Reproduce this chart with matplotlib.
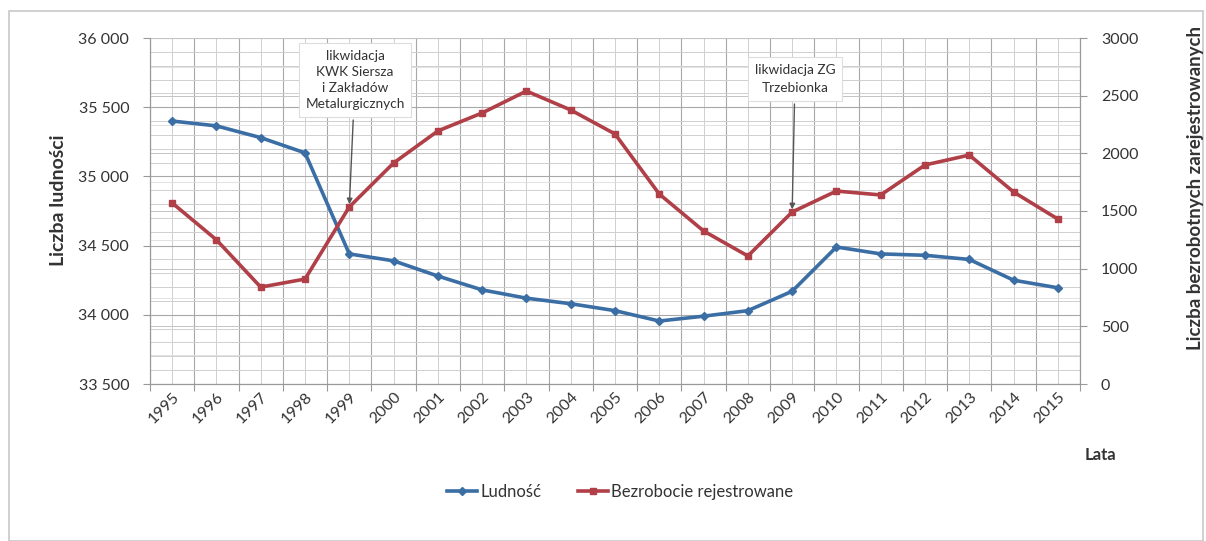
import matplotlib
matplotlib.use("Agg")
import matplotlib.pyplot as plt
from matplotlib.ticker import MultipleLocator, FuncFormatter
from matplotlib.patches import Rectangle
import numpy as np

plt.rcParams["font.family"] = ["Lato", "DejaVu Sans"]

years = [str(y) for y in range(1995, 2016)]
ludnosc = [35400, 35365, 35280, 35170, 34440, 34390, 34280, 34180, 34120, 34080, 34030,
           33955, 33990, 34030, 34170, 34490, 34440, 34430, 34400, 34250, 34195]
bezrobocie = [1570, 1250, 840, 910, 1535, 1916, 2194, 2350, 2540, 2376, 2168,
              1647, 1327, 1110, 1491, 1673, 1639, 1899, 1985, 1665, 1430]

BLUE = "#3a6ea5"
RED = "#b03f48"
TXT = "#333333"

fig = plt.figure(figsize=(12.06, 5.41), dpi=100)
fig.patches.append(Rectangle((9 / 1206, 0), 1 - 12 / 1206, 1 - 11 / 541, transform=fig.transFigure,
                             fill=False, edgecolor="#c8c8c8", lw=1.2))

ax = fig.add_axes([150 / 1206, 1 - 384 / 541, 930 / 1206, 346 / 541])
ax2 = ax.twinx()
x = np.arange(len(years))

# ---------------- grid ----------------
ax.set_ylim(33500, 36000)
ax.yaxis.set_major_locator(MultipleLocator(500))
ax.yaxis.set_minor_locator(MultipleLocator(100))
ax.set_xlim(-0.5, len(years) - 0.5)
ax.set_xticks(np.arange(-0.5, len(years), 1.0))
ax.set_xticks(x, minor=True)
ax.grid(True, which="major", color="#a8a8a8", lw=0.8)
ax.grid(True, which="minor", color="#cfcfcf", lw=0.7)
ax.set_axisbelow(True)

ax2.set_ylim(0, 3000)
ax2.yaxis.set_major_locator(MultipleLocator(500))
ax2.yaxis.set_minor_locator(MultipleLocator(250))
ax2.grid(True, which="major", axis="y", color="#c4c4c4", lw=0.7)
ax2.grid(True, which="minor", axis="y", color="#dddddd", lw=0.6)

# ---------------- series ----------------
# Ludność rysowana na osi prawej po przeskalowaniu, żeby linie były nad siatką obu osi
ax2.plot(x, [(v - 33500) / 2500 * 3000 for v in ludnosc], color=BLUE, lw=2.6, marker="D", ms=4.5,
         label="Ludność", zorder=5)
ax2.plot(x, bezrobocie, color=RED, lw=2.6, marker="s", ms=4.5, label="Bezrobocie rejestrowane", zorder=5)

# ---------------- axes style ----------------
for a in (ax, ax2):
    a.spines["top"].set_visible(False)
    for s in ("left", "right", "bottom"):
        a.spines[s].set_color("#999999")
ax.yaxis.set_major_formatter(FuncFormatter(lambda v, p: f"{int(v):,}".replace(",", " ")))
ax.tick_params(axis="y", which="major", length=5, color="#999999", labelsize=11.5, labelcolor=TXT, pad=10)
ax.tick_params(axis="y", which="minor", length=0)
ax.tick_params(axis="x", which="major", length=5, color="#999999", labelbottom=False)
ax.tick_params(axis="x", which="minor", length=0, labelsize=11.5, labelcolor=TXT, pad=4)
ax.set_xticklabels(years, minor=True, rotation=45, ha="right", rotation_mode="anchor")
ax2.tick_params(axis="y", which="major", length=5, color="#999999", labelsize=11.5, labelcolor=TXT, pad=10)
ax2.tick_params(axis="y", which="minor", length=0)

fig.text(58 / 1206, 1 - 200 / 541, "Liczba ludności", rotation=90, fontsize=14, fontweight="bold",
         color=TXT, ha="center", va="center")
fig.text(1196 / 1206, 1 - 188 / 541, "Liczba bezrobotnych zarejestrowanych", rotation=90, fontsize=13.5,
         fontweight="bold", color=TXT, ha="center", va="center")
fig.text(1100 / 1206, 1 - 455 / 541, "Lata", fontsize=12, fontweight="bold", color=TXT,
         ha="center", va="center")

# ---------------- annotations ----------------
box = dict(boxstyle="square,pad=0.5", fc="white", ec="#dddddd", lw=0.8)
arr = dict(arrowstyle="-|>", color="#555555", lw=1.0, mutation_scale=8, shrinkB=2)
ax2.annotate("likwidacja\nKWK Siersza\ni Zakładów\nMetalurgicznych", xy=(4, bezrobocie[4]),
             xytext=(355 / 1206, 1 - 80 / 541), textcoords="figure fraction", ha="center", va="center",
             fontsize=9.8, color=TXT, linespacing=1.4, bbox=box, arrowprops=arr, zorder=10)
ax2.annotate("likwidacja ZG\nTrzebionka", xy=(14, bezrobocie[14]),
             xytext=(795 / 1206, 1 - 79 / 541), textcoords="figure fraction", ha="center", va="center",
             fontsize=9.8, color=TXT, linespacing=1.6, bbox=box, arrowprops=arr, zorder=10)

# ---------------- legend ----------------
h, lab = ax2.get_legend_handles_labels()
fig.legend(h, lab, loc="center", bbox_to_anchor=(620 / 1206, 1 - 492 / 541), ncol=2, frameon=False,
           fontsize=12, handlelength=1.8, handletextpad=0.2, columnspacing=2.2, labelcolor=TXT)

fig.savefig("out.png", dpi=100)
